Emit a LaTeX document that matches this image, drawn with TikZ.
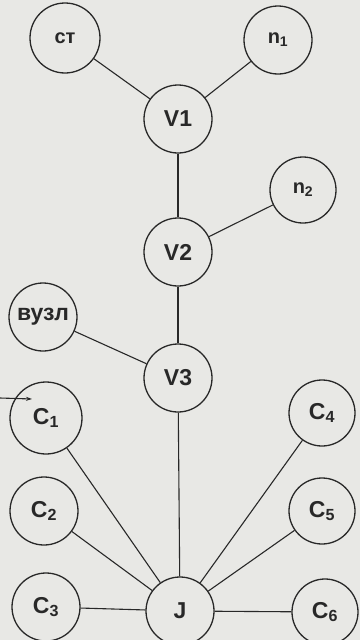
\documentclass[tikz,border=0pt]{standalone}
\usepackage{fontspec}
\setmainfont{Liberation Sans}
\usetikzlibrary{arrows.meta}
\definecolor{paper}{RGB}{232,232,229}
\definecolor{ink}{RGB}{40,40,40}
\begin{document}
\begin{tikzpicture}[x=1pt,y=-1pt,
  nd/.style={circle,draw=ink,line width=1.3pt,inner sep=0pt,minimum size=68pt,
             text=ink,font=\fontsize{23}{26}\selectfont\bfseries},
  sm/.style={nd,font=\fontsize{20}{24}\selectfont\bfseries},
  big/.style={nd,font=\fontsize{23}{26}\selectfont\bfseries},
  edge/.style={draw=ink,line width=1.1pt}]
\fill[paper] (0,0) rectangle (360,640);
\useasboundingbox (0,0) rectangle (360,640);
\node[sm,minimum size=70pt] (st) at (65,38) {ст};
\node[sm] (n1) at (278,40) {n\textsubscript{1}};
\node[nd] (v1) at (178,119) {V1};
\node[sm,minimum size=66pt] (n2) at (303,190) {n\textsubscript{2}};
\node[nd] (v2) at (178,252) {V2};
\node[big] (vuzl) at (43,317) {вузл};
\node[nd] (v3) at (178,378) {V3};
\node[nd,minimum size=72pt] (c1) at (46,418) {C\textsubscript{1}};
\node[nd,minimum size=66pt] (c4) at (322,413) {C\textsubscript{4}};
\node[nd] (c2) at (44,511) {C\textsubscript{2}};
\node[nd,minimum size=66pt] (c5) at (322,511) {C\textsubscript{5}};
\node[nd] (c3) at (46,607) {C\textsubscript{3}};
\node[nd] (j) at (180,611) {J};
\node[nd,minimum size=66pt] (c6) at (325,612) {C\textsubscript{6}};
\coordinate (ain) at (0,398);
\coordinate (aout) at (32,399);
\draw[edge] (st) -- (v1);
\draw[edge] (n1) -- (v1);
\draw[edge] (v1) -- (v2);
\draw[edge] (n2) -- (v2);
\draw[edge] (v2) -- (v3);
\draw[edge] (vuzl) -- (v3);
\draw[edge] (v3) -- (j);
\draw[edge] (c1) -- (j);
\draw[edge] (c2) -- (j);
\draw[edge] (c3) -- (j);
\draw[edge] (c4) -- (j);
\draw[edge] (c5) -- (j);
\draw[edge] (c6) -- (j);
\draw[edge,-{Stealth[length=6pt,width=4pt]}] (ain) -- (aout);
\end{tikzpicture}
\end{document}
